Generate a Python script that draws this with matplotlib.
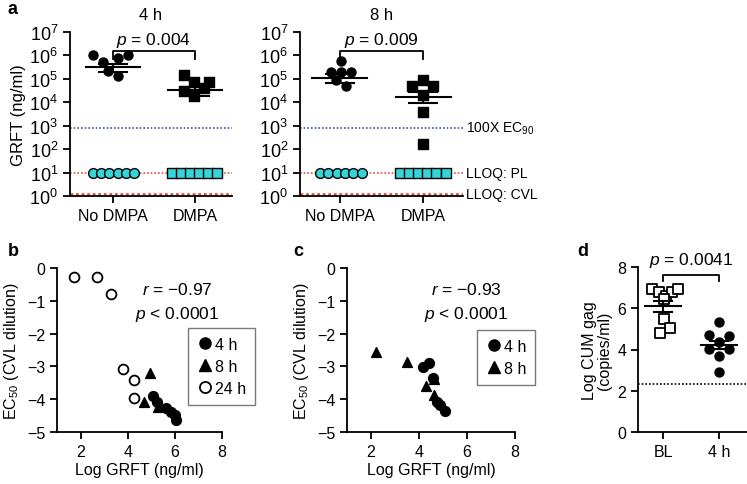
import numpy as np
import matplotlib
matplotlib.use("Agg")
from matplotlib import pyplot as plt
from matplotlib.lines import Line2D

plt.rcParams["font.family"] = ["Liberation Sans", "DejaVu Sans"]
plt.rcParams["font.size"] = 11.5
plt.rcParams["mathtext.fontset"] = "custom"
plt.rcParams["mathtext.rm"] = "Liberation Sans"
plt.rcParams["mathtext.it"] = "Liberation Sans:italic"
plt.rcParams["axes.linewidth"] = 1.3
plt.rcParams["xtick.major.width"] = 1.3
plt.rcParams["ytick.major.width"] = 1.3

# ---- panel a data (GRFT, ng/ml) ----
groups_a = ["No DMPA", "DMPA"]
grft_4h_nodmpa = [1.07e6, 5.1e5, 7.6e5, 1.07e6, 2.1e5, 1.35e5]
grft_4h_dmpa = [1.45e5, 7.6e4, 7.6e4, 4.1e4, 2.95e4, 1.8e4]
grft_8h_nodmpa = [5.6e5, 2.0e5, 1.9e5, 2.0e5, 8.9e4, 5.1e4]
grft_8h_dmpa = [9.1e4, 4.8e4, 4.8e4, 2.1e4, 3.7e3, 1.66e2]
# mean, sem low, sem high
summ_4h = [(3.1e5, 1.9e5, 4.3e5), (3.2e4, 1.9e4, 4.4e4)]
summ_8h = [(1.1e5, 6.5e4, 1.6e5), (1.7e4, 9.3e3, 2.7e4)]
pvals_a = ["0.004", "0.009"]
plasma_lloq = [10] * 6
ec90_100x = 800
lloq_pl = 10
lloq_cvl = 1.2

# ---- panel b data ----
b_4h_x = [5.07, 5.26, 5.64, 5.83, 6.0, 6.04]
b_4h_y = [-3.90, -4.10, -4.27, -4.39, -4.49, -4.64]
b_8h_x = [4.93, 4.69, 5.29]
b_8h_y = [-3.20, -4.08, -4.25]
b_24h_x = [1.71, 2.70, 3.31, 3.78, 4.25, 4.25]
b_24h_y = [-0.28, -0.27, -0.80, -3.08, -3.42, -3.97]

# ---- panel c data ----
c_4h_x = [4.17, 4.40, 4.57, 4.75, 4.86, 5.07]
c_4h_y = [-3.02, -2.90, -3.36, -4.09, -4.19, -4.37]
c_8h_x = [2.22, 3.52, 4.28, 4.61, 4.63]
c_8h_y = [-2.55, -2.86, -3.61, -3.37, -3.86]

# ---- panel d data ----
groups_d = ["BL", "4 h"]
d_bl = [6.94, 6.78, 6.57, 6.80, 6.94, 6.45, 5.50, 5.04, 4.82]
d_4h = [5.32, 4.71, 4.65, 4.35, 4.03, 4.03, 3.70, 2.93]
summ_d = [(6.13, 5.84, 6.37), (4.22, 4.03, 4.43)]
d_lod = 2.35

# jitter offsets (category units)
jit_a = {
    "4h0": [-0.24, -0.12, 0.06, 0.18, -0.06, 0.06],
    "4h1": [-0.13, -0.01, 0.17, 0.11, -0.13, -0.01],
    "8h0": [0.01, -0.11, 0.01, 0.13, -0.05, 0.07],
    "8h1": [0.0, -0.13, 0.12, 0.0, 0.0, 0.0],
}
jit_cyan_c = [-0.24, -0.14, -0.04, 0.06, 0.16, 0.26]
jit_cyan_s = [-0.28, -0.17, -0.06, 0.05, 0.16, 0.27]
jit_d_bl = [-0.2, -0.07, 0.05, 0.16, 0.27, 0.02, 0.02, 0.12, -0.05]
jit_d_4h = [0.0, -0.18, 0.18, 0.0, -0.18, 0.18, 0.0, 0.0]

W, H = 747, 485
fig = plt.figure(figsize=(W / 100, H / 100), dpi=100)


def box(x0, x1, y0, y1):
    return [x0 / W, 1 - y1 / H, (x1 - x0) / W, (y1 - y0) / H]


def style(ax):
    for s in ["top", "right"]:
        ax.spines[s].set_visible(False)
    ax.tick_params(direction="out", length=5)


def mean_sem(ax, xc, m, lo, hi, hw=0.33, cw=0.17):
    ax.plot([xc - hw, xc + hw], [m, m], color="k", lw=1.5, zorder=4)
    ax.plot([xc, xc], [lo, hi], color="k", lw=1.5, zorder=4)
    ax.plot([xc - cw, xc + cw], [lo, lo], color="k", lw=1.5, zorder=4)
    ax.plot([xc - cw, xc + cw], [hi, hi], color="k", lw=1.5, zorder=4)


def bracket(ax, x0, x1, y, drop, text, ty, log=True):
    y2 = y / drop if log else y - drop
    ax.plot([x0, x0, x1, x1], [y2, y, y, y2], color="k", lw=1.3, clip_on=False)
    ax.text((x0 + x1) / 2, ty, "$\\it{p}$ = " + text, ha="center", va="center",
            fontsize=12.5)


def legend_box(ax, handles, labels, x, y):
    lg = ax.legend(handles, labels, loc="upper left", bbox_to_anchor=(x, y),
                   borderaxespad=0, frameon=True, fancybox=False,
                   handletextpad=0.15, borderpad=0.55, labelspacing=0.45,
                   handlelength=1.0, fontsize=11.5)
    lg.get_frame().set_edgecolor("0.35")
    lg.get_frame().set_linewidth(1.0)


def panel_a(ax, vals0, vals1, j0, j1, summ, pval, title):
    style(ax)
    ax.set_yscale("log")
    ax.set_ylim(1, 1e7)
    ax.set_yticks([10.0 ** k for k in range(8)])
    ax.tick_params(axis="y", which="major", labelsize=13)
    ax.tick_params(axis="y", which="minor", length=3, width=1)
    ax.axhline(ec90_100x, color="#3a4fb8", ls=(0, (1, 1.2)), lw=1.2, zorder=1)
    ax.axhline(lloq_pl, color="#e0523a", ls=(0, (1, 1.2)), lw=1.2, zorder=1)
    ax.axhline(lloq_cvl, color="#e0523a", ls=(0, (1, 1)), lw=2.0, zorder=1)
    ax.scatter(np.array(j0), vals0, s=42, marker="o", color="k", zorder=5)
    ax.scatter(1 + np.array(j1), vals1, s=42, marker="s", color="k", zorder=5)
    ax.scatter(np.array(jit_cyan_c), plasma_lloq, s=50, marker="o",
               facecolor="#33d5d8", edgecolor="k", lw=1, zorder=5)
    ax.scatter(1 + np.array(jit_cyan_s), plasma_lloq, s=46, marker="s",
               facecolor="#33d5d8", edgecolor="k", lw=1, zorder=5)
    for i, (m, lo, hi) in enumerate(summ):
        mean_sem(ax, i, m, lo, hi)
    ax.set_xticks([0, 1])
    ax.set_xticklabels(groups_a)
    ax.set_title(title, fontsize=12, pad=9)
    bracket(ax, 0, 1, 1.5e6, 2.2, pval, 4.6e6)


ax1 = fig.add_axes(box(70, 232, 33, 197))
panel_a(ax1, grft_4h_nodmpa, grft_4h_dmpa, jit_a["4h0"], jit_a["4h1"], summ_4h,
        pvals_a[0], "4 h")
ax1.set_xlim(-0.52, 1.45)
ax1.set_ylabel("GRFT (ng/ml)", fontsize=12)
ax1.yaxis.set_label_coords(-0.27, 0.5)

ax2 = fig.add_axes(box(300, 463, 33, 197))
panel_a(ax2, grft_8h_nodmpa, grft_8h_dmpa, jit_a["8h0"], jit_a["8h1"], summ_8h,
        pvals_a[1], "8 h")
ax2.set_xlim(-0.48, 1.48)
tr = ax2.get_yaxis_transform()
ax2.text(1.02, ec90_100x, "100X EC$_{90}$", transform=tr, va="center", fontsize=10)
ax2.text(1.02, lloq_pl, "LLOQ: PL", transform=tr, va="center", fontsize=10)
ax2.text(1.02, lloq_cvl, "LLOQ: CVL", transform=tr, va="center", fontsize=10)

h_b = [Line2D([], [], marker="o", color="k", ls="none", ms=8),
       Line2D([], [], marker="^", color="k", ls="none", ms=8),
       Line2D([], [], marker="o", mfc="white", mec="k", ls="none", ms=8, mew=1.3)]

# ---- panel b ----
ax3 = fig.add_axes(box(57, 222, 269, 433))
style(ax3)
ax3.scatter(b_4h_x, b_4h_y, s=50, marker="o", color="k", zorder=3)
ax3.scatter(b_8h_x, b_8h_y, s=50, marker="^", color="k", zorder=3)
ax3.scatter(b_24h_x, b_24h_y, s=50, marker="o", facecolor="white",
            edgecolor="k", lw=1.3, zorder=3)
ax3.set_xlim(1, 8)
ax3.set_ylim(-5, 0)
ax3.set_xticks([2, 4, 6, 8])
ax3.set_yticks([0, -1, -2, -3, -4, -5])
ax3.set_xlabel("Log GRFT (ng/ml)", labelpad=2)
ax3.set_ylabel("EC$_{50}$ (CVL dilution)")
ax3.text(0.73, 0.87, "$\\it{r}$ = \u22120.97", transform=ax3.transAxes,
         ha="center", va="center", fontsize=12.5)
ax3.text(0.73, 0.725, "$\\it{p}$ < 0.0001", transform=ax3.transAxes,
         ha="center", va="center", fontsize=12.5)
legend_box(ax3, h_b, ["4 h", "8 h", "24 h"], 0.795, 0.635)

# ---- panel c ----
ax4 = fig.add_axes(box(347, 515, 269, 433))
style(ax4)
ax4.scatter(c_4h_x, c_4h_y, s=50, marker="o", color="k", zorder=3)
ax4.scatter(c_8h_x, c_8h_y, s=50, marker="^", color="k", zorder=3)
ax4.set_xlim(1, 8)
ax4.set_ylim(-5, 0)
ax4.set_xticks([2, 4, 6, 8])
ax4.set_yticks([0, -1, -2, -3, -4, -5])
ax4.set_xlabel("Log GRFT (ng/ml)", labelpad=2)
ax4.set_ylabel("EC$_{50}$ (CVL dilution)")
ax4.text(0.71, 0.87, "$\\it{r}$ = \u22120.93", transform=ax4.transAxes,
         ha="center", va="center", fontsize=12.5)
ax4.text(0.71, 0.725, "$\\it{p}$ < 0.0001", transform=ax4.transAxes,
         ha="center", va="center", fontsize=12.5)
legend_box(ax4, h_b[:2], ["4 h", "8 h"], 0.774, 0.622)

# ---- panel d ----
ax5 = fig.add_axes(box(638, 747, 268, 433))
style(ax5)
ax5.axhline(d_lod, color="k", ls=(0, (1, 1.2)), lw=1.2, zorder=1)
ax5.scatter(np.array(jit_d_bl), d_bl, s=48, marker="s", facecolor="white",
            edgecolor="k", lw=1.3, zorder=3)
ax5.scatter(1 + np.array(jit_d_4h), d_4h, s=42, marker="o", color="k", zorder=3)
for i, (m, lo, hi) in enumerate(summ_d):
    mean_sem(ax5, i, m, lo, hi, hw=0.32, cw=0.16)
ax5.set_xlim(-0.45, 1.5)
ax5.set_ylim(0, 8)
ax5.set_yticks([0, 2, 4, 6, 8])
ax5.set_xticks([0, 1])
ax5.set_xticklabels(groups_d)
ax5.set_ylabel("Log CUM gag\n(copies/ml)", linespacing=1.0)
bracket(ax5, 0, 1, 7.6, 0.3, "0.0041", 8.35, log=False)

# panel letters
for lab, x, y in [("a", 8, 10), ("b", 8, 252), ("c", 293, 252), ("d", 577, 252)]:
    fig.text(x / W, 1 - y / H, lab, fontsize=13, fontweight="bold",
             ha="left", va="center")

fig.savefig("out.png", dpi=100)
